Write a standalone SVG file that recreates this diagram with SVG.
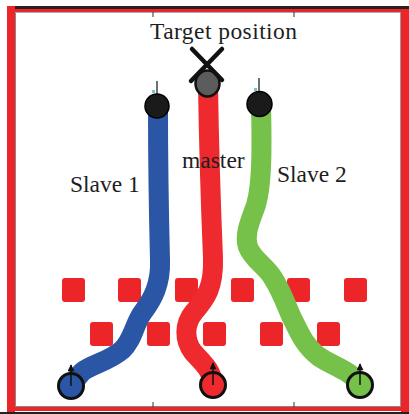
<svg xmlns="http://www.w3.org/2000/svg" width="409" height="414" viewBox="0 0 409 414">
<style>
.lbl{font-family:"Liberation Serif","Times New Roman",serif;font-size:23.5px;fill:#1e1e1e}
.obs{fill:#ec2529}
.traj{fill:none;stroke-width:20;stroke-linecap:round;stroke-linejoin:round}
.tick{stroke:#333;stroke-width:1}
.robot{stroke:#111;stroke-width:3}
.head{fill:#1a1a1a;stroke:#000;stroke-width:1.5}
.ant{stroke:#111;stroke-width:1.2}
.dir{stroke:#111;stroke-width:1.5}
</style>
<defs>
<marker id="arr" viewBox="0 0 10 10" refX="9" refY="5" markerWidth="8" markerHeight="7" orient="auto" markerUnits="userSpaceOnUse">
<path d="M0,0 L10,5 L0,10 Z" fill="#111"/>
</marker>
</defs>
<rect width="409" height="414" fill="#fff"/>
<g id="frame">
<rect x="7" y="6" width="8" height="406" fill="#ec2529"/>
<rect x="15" y="6" width="394" height="3" fill="#222"/>
<rect x="15" y="9" width="394" height="3.5" fill="#ec2529"/>
<rect x="401" y="9" width="8" height="403" fill="#ec2529"/>
<rect x="15" y="407" width="394" height="4" fill="#ec2529"/>
<rect x="0" y="412" width="409" height="2" fill="#222"/>
<line x1="15.5" y1="12" x2="15.5" y2="407" stroke="#888" stroke-width="1"/>
<line x1="15" y1="12.5" x2="401" y2="12.5" stroke="#aaa" stroke-width="1"/>
<line x1="400.5" y1="12" x2="400.5" y2="407" stroke="#999" stroke-width="1"/>
<line x1="15" y1="406.5" x2="401" y2="406.5" stroke="#888" stroke-width="1"/>
<line class="tick" x1="153" y1="12" x2="153" y2="17"/>
<line class="tick" x1="294" y1="12" x2="294" y2="17"/>
<line class="tick" x1="153" y1="402" x2="153" y2="407"/>
<line class="tick" x1="294" y1="402" x2="294" y2="407"/>
</g>
<g id="obstacles">
<rect class="obs" x="62" y="278" width="23" height="24" rx="3"/>
<rect class="obs" x="118" y="278" width="23" height="24" rx="3"/>
<rect class="obs" x="175" y="278" width="23" height="24" rx="3"/>
<rect class="obs" x="231" y="278" width="23" height="24" rx="3"/>
<rect class="obs" x="287" y="278" width="23" height="24" rx="3"/>
<rect class="obs" x="344" y="278" width="23" height="24" rx="3"/>
<rect class="obs" x="90" y="322" width="23" height="24" rx="3"/>
<rect class="obs" x="147" y="322" width="23" height="24" rx="3"/>
<rect class="obs" x="203" y="322" width="23" height="24" rx="3"/>
<rect class="obs" x="260" y="322" width="23" height="24" rx="3"/>
<rect class="obs" x="317" y="322" width="23" height="24" rx="3"/>
</g>
<g id="connectors">
<path class="traj" stroke="#2b56a6" d="M158,108 C158,160 159,220 160,260 C161,285 152,300 143,312 C134,324 133,340 122,350 C108,362 92,364 82,372 L71,385"/>
<path class="traj" stroke="#ee2a2e" d="M208,86 C209,150 211,210 213,258 C214,290 204,300 194,312 C184,324 184,340 193,352 C202,362 212,370 213,384"/>
<path class="traj" stroke="#75c14a" d="M261,104 C262,150 262,185 256,205 C250,222 244,234 248,247 C253,260 266,266 273,278 C282,292 286,305 292,318 C299,332 304,345 318,356 C332,366 350,370 360,384"/>
</g>
<g id="target">
<ellipse cx="207.5" cy="83.5" rx="12" ry="13" fill="#5c5c5c" stroke="#111" stroke-width="2.5"/>
<line x1="192" y1="49" x2="222" y2="80" stroke="#111" stroke-width="4.5" stroke-linecap="round"/>
<line x1="222" y1="49" x2="191" y2="81" stroke="#111" stroke-width="4.5" stroke-linecap="round"/>
<text class="lbl" x="150" y="38.5" textLength="147">Target position</text>
</g>
<g id="slave1">
<line class="ant" x1="157" y1="81" x2="157" y2="94"/>
<rect x="152" y="90" width="3" height="3" fill="#6cc8d0"/>
<circle cx="157" cy="106" r="12" class="head"/>
<circle cx="71" cy="386" r="12.5" fill="#2b56a6" class="robot"/>
<line class="dir" x1="71" y1="386" x2="71" y2="365" marker-end="url(#arr)"/>
<text class="lbl" x="70" y="192">Slave 1</text>
</g>
<g id="master">
<circle cx="213" cy="385" r="12.5" fill="#ee2a2e" class="robot"/>
<line class="dir" x1="213" y1="385" x2="213" y2="363" marker-end="url(#arr)"/>
<text class="lbl" x="182" y="168">master</text>
</g>
<g id="slave2">
<line class="ant" x1="259" y1="78" x2="259" y2="92"/>
<rect x="254" y="88" width="3" height="3" fill="#6cc8d0"/>
<circle cx="259.5" cy="104" r="12.5" class="head"/>
<circle cx="360" cy="385" r="12.5" fill="#75c14a" class="robot"/>
<line class="dir" x1="360" y1="385" x2="360" y2="364" marker-end="url(#arr)"/>
<text class="lbl" x="277" y="182">Slave 2</text>
</g>
</svg>
